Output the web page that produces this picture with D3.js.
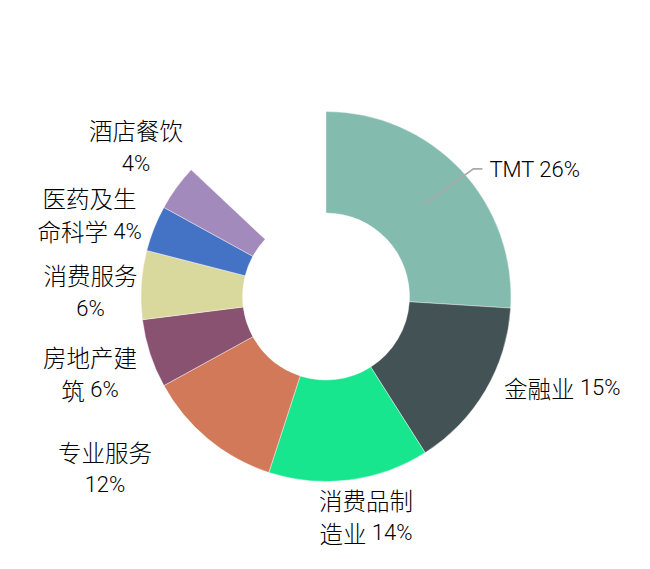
<!DOCTYPE html>
<html><head><meta charset="utf-8">
<script src="https://cdn.jsdelivr.net/npm/d3@7"></script>
<style>body{margin:0;background:#fff}</style></head>
<body><svg id="chart" width="650" height="569"></svg>
<script>
// ---- data ----
const categories = ["TMT", "金融业", "消费品制造业", "专业服务", "房地产建筑", "消费服务", "医药及生命科学", "酒店餐饮"];
const values = [26, 15, 14, 12, 6, 6, 4, 4];
const totalPct = 100;
const colors = ["#83bbae", "#435254", "#18e68f", "#d2795a", "#8a5271", "#d9d89d", "#4472c4", "#a38abd"];

// ---- layout ----
const W = 650, H = 569;
const cx = 326, cy = 296.5, innerR = 83.5, outerR = 185;
const labelR = 215, lineH = 33;
// per-label nudges (block centre relative to point at labelR on mid-angle)
const labelNudge = [null, [-7, -18], [13, 6.5], [-84, 6], [-31.5, 10.5], [-21, 8.5], [-36.5, -2.4], [-16, -23.5]];
const labelAnchor = [null, "start", "middle", "middle", "middle", "middle", "middle", "middle"];

const svg = d3.select("#chart");
const g = svg.append("g").attr("transform", `translate(${cx},${cy})`);

const rest = totalPct - d3.sum(values);
const pie = d3.pie().sort(null).value(d => d.v);
const arcs = pie([...values.map((v, i) => ({v, i})), {v: rest, i: -1}]);
const arc = d3.arc().innerRadius(innerR).outerRadius(outerR);

g.selectAll("path.slice").data(arcs.filter(a => a.data.i >= 0)).join("path")
  .attr("class", "slice")
  .attr("d", arc)
  .attr("fill", d => colors[d.data.i])
  .attr("stroke", "#fff").attr("stroke-width", 0.4);

const latinFont = "Roboto, 'Noto Sans CJK SC', sans-serif";
const cjkFont = "'Noto Sans CJK SC', sans-serif";
const polar = (r, a) => [r * Math.sin(a), -r * Math.cos(a)];

function wrap(name, v) {
  const t = name + " " + v + "%";
  if (name.length >= 4) return [t.slice(0, 4), t.slice(4).trim()];
  return [t];
}
// split a string into CJK / non-CJK runs
function runs(s) {
  const out = [];
  for (const ch of s) {
    const cjk = /[\u3400-\u9fff]/.test(ch);
    if (out.length && out[out.length - 1].cjk === cjk) out[out.length - 1].t += ch;
    else out.push({t: ch, cjk});
  }
  return out;
}
function addLine(textSel, str, x, y) {
  const first = textSel.append("tspan").attr("x", x).attr("y", y).attr("dominant-baseline", "central");
  runs(str).forEach((r, k) => {
    const ts = k === 0 ? first : textSel.append("tspan").attr("dominant-baseline", "central");
    ts.attr("font-family", r.cjk ? cjkFont : latinFont)
      .attr("font-size", r.cjk ? 23.5 : 22)
      .attr("font-weight", 300)
      .text(r.t);
  });
}

arcs.filter(a => a.data.i >= 0).forEach(a => {
  const i = a.data.i;
  const mid = (a.startAngle + a.endAngle) / 2;
  const lines = wrap(categories[i], values[i]);
  if (i === 0) {
    const p1 = polar((innerR + outerR) / 2, mid);
    const p2 = polar(outerR + 10, mid + 2.3 * Math.PI / 180);
    const p3 = [p2[0] + 9, p2[1]];
    g.append("polyline")
      .attr("points", [p1, p2, p3].map(p => p.join(",")).join(" "))
      .attr("fill", "none").attr("stroke", "#aaaaaa").attr("stroke-width", 1.8);
    const t0 = g.append("text").attr("text-anchor", "start").attr("fill", "#000");
    addLine(t0, lines[0], p3[0] + 7, p3[1] + 1);
    return;
  }
  const b = polar(labelR, mid);
  const bx = b[0] + labelNudge[i][0], by = b[1] + labelNudge[i][1];
  const t = g.append("text").attr("text-anchor", labelAnchor[i]).attr("fill", "#000");
  lines.forEach((ln, k) => addLine(t, ln, bx, by + (k - (lines.length - 1) / 2) * lineH));
});
</script></body></html>
